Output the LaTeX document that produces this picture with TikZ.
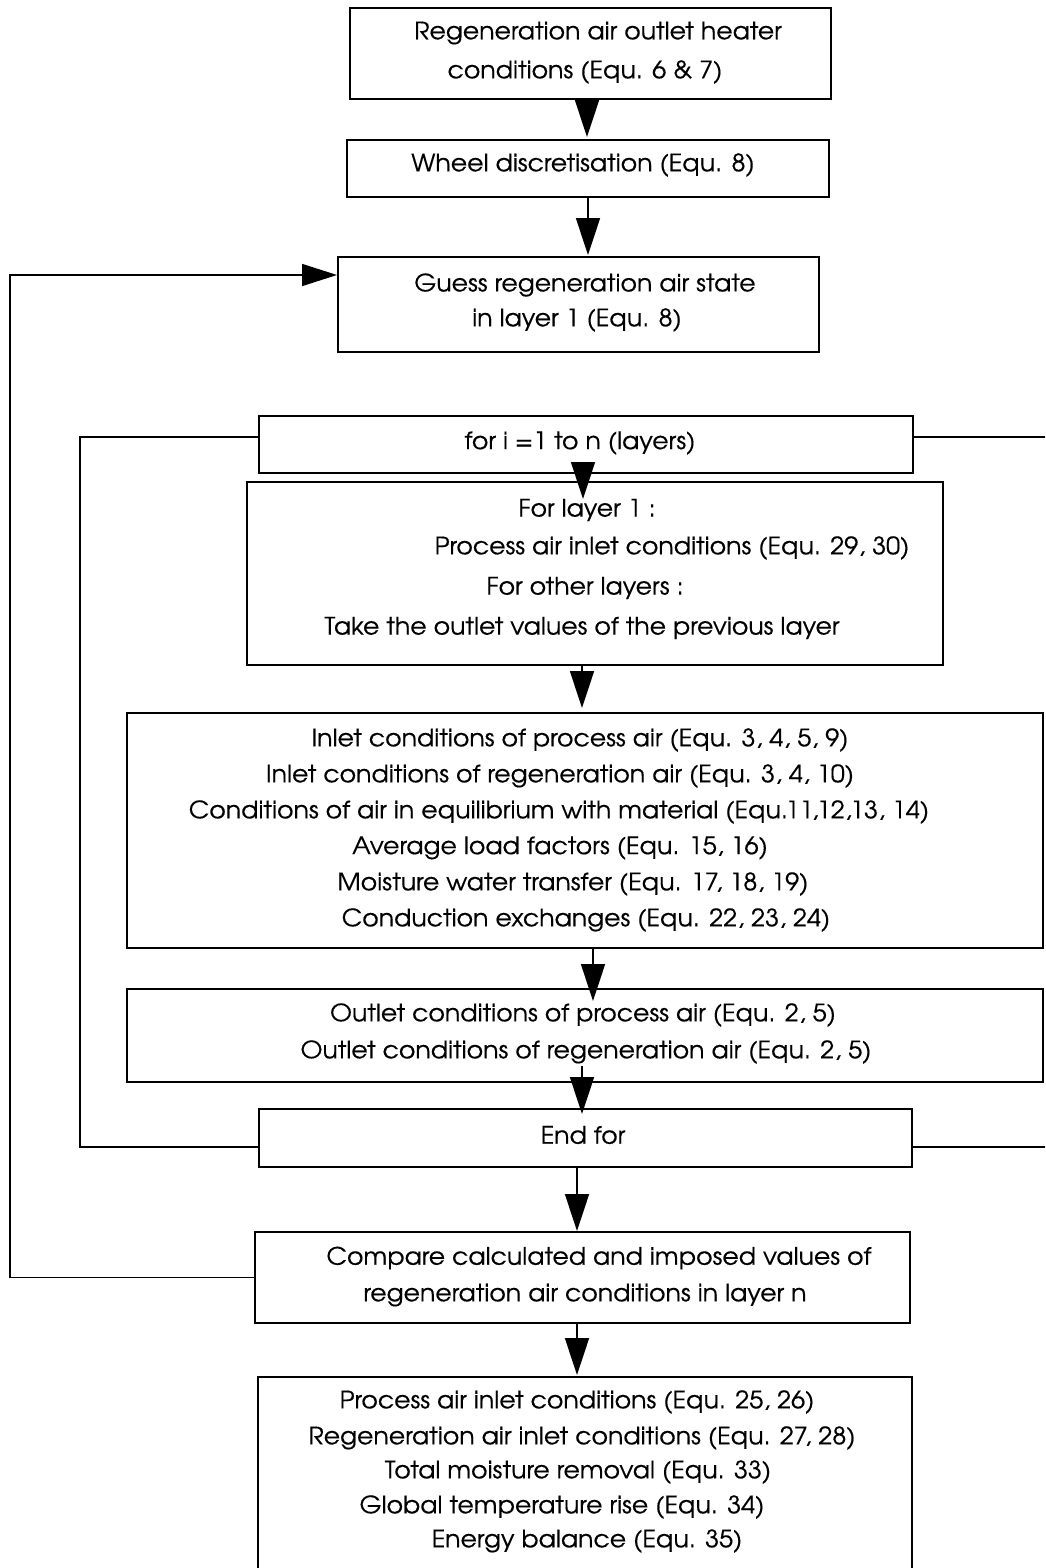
\documentclass[tikz,border=0pt]{standalone}
\usepackage{fontspec}
\IfFontExistsTF{TeX Gyre Adventor}{\setmainfont[FakeStretch=1.05,FakeBold=0.4]{TeX Gyre Adventor}}{\setmainfont{Poppins}}
\usetikzlibrary{arrows.meta,calc}
\tikzset{
  box/.style={draw=black, line width=2pt, rectangle, inner sep=0pt, fill=none},
  txt/.style={inner sep=0pt, font=\fontsize{24}{28}\selectfont},
  conn/.style={draw=black, line width=1.6pt},
  arr/.style={conn, -{Triangle[length=37pt,width=24pt]}},
  harr/.style={conn, -{Triangle[length=35pt,width=22pt]}},
}
\newcommand\fbx[5]{\node[box,minimum width={#4-#2},minimum height={#5-#3}] (#1) at ({(#2+#4)/2},{(#3+#5)/2}) {};}
\begin{document}
\begin{tikzpicture}[x=1pt,y=-1pt]
\useasboundingbox (0,0) rectangle (1045,1568);
\fill[white] (0,0) rectangle (1045,1568);
\clip (0,0) rectangle (1045,1568);
% boxes
\fbx{b1}{350}{8}{831}{99}
\fbx{b2}{347}{140}{829}{197}
\fbx{b3}{338}{257}{819}{352}
\fbx{b4}{259}{416}{913}{473}
\fbx{b5}{247}{482}{943}{665}
\fbx{b6}{127}{713}{1043}{948}
\fbx{b7}{127}{989}{1043}{1082}
\fbx{b8}{259}{1109}{912}{1167}
\fbx{b9}{255}{1232}{910}{1323}
\fbx{b10}{258}{1377}{912}{1600}
% texts
\node[txt] (t1a) at (598,33) {Regeneration air outlet heater};
\node[txt] (t1b) at (585,72) {conditions (Equ. 6 \& 7)};
\node[txt] (t2) at (583,165) {Wheel discretisation (Equ. 8)};
\node[txt] (t3a) at (585,285) {Guess regeneration air state};
\node[txt] (t3b) at (577,320) {in layer 1 (Equ. 8)};
\node[txt] (t4) at (580,443) {for i =1 to n (layers)};
\node[txt] (t5a) at (587,510) {For layer 1 :};
\node[txt] (t5b) at (672,548) {Process air inlet conditions (Equ. 29, 30)};
\node[txt] (t5c) at (585,588) {For other layers :};
\node[txt] (t5d) at (582,628) {Take the outlet values of the previous layer};
\node[txt] (t6a) at (580,740) {Inlet conditions of process air (Equ. 3, 4, 5, 9)};
\node[txt] (t6b) at (560,776) {Inlet conditions of regeneration air (Equ. 3, 4, 10)};
\node[txt] (t6c) at (559,812) {Conditions of air in equilibrium with material (Equ.11,12,13, 14)};
\node[txt] (t6d) at (560,848) {Average load factors (Equ. 15, 16)};
\node[txt] (t6e) at (573,884) {Moisture water transfer (Equ. 17, 18, 19)};
\node[txt] (t6f) at (586,920) {Conduction exchanges (Equ. 22, 23, 24)};
\node[txt] (t7a) at (583,1015) {Outlet conditions of process air (Equ. 2, 5)};
\node[txt] (t7b) at (586,1052) {Outlet conditions of regeneration air (Equ. 2, 5)};
\node[txt] (t8) at (583,1135) {End for};
\node[txt] (t9a) at (599,1258) {Compare calculated and imposed values of};
\node[txt] (t9b) at (585,1295) {regeneration air conditions in layer n};
\node[txt] (t10a) at (577,1402) {Process air inlet conditions (Equ. 25, 26)};
\node[txt] (t10b) at (582,1438) {Regeneration air inlet conditions (Equ. 27, 28)};
\node[txt] (t10c) at (578,1472) {Total moisture removal (Equ. 33)};
\node[txt] (t10d) at (562,1507) {Global temperature rise (Equ. 34)};
\node[txt] (t10e) at (587,1541) {Energy balance (Equ. 35)};
% coordinates for loops
\coordinate (lp) at (10,275);
\coordinate (lf1) at (80,437);
\coordinate (lf2) at (80,1147);
\coordinate (rf1) at (1050,437);
\coordinate (rf2) at (1050,1147);
% connectors
\draw[arr] ([xshift=-3.5pt]b1.south) -- ++(0,37);
\draw[arr] (b2.south) -- ++(0,57);
\draw[harr] (b9.west) -| (lp) -- ([yshift=29.5pt]b3.west);
\draw[arr] ([xshift=-3pt,yshift=11pt]b4.south) -- ++(0,36);
\draw[arr] ([xshift=-13pt]b5.south) -- ++(0,42);
\draw[arr] ([xshift=8pt]b6.south) -- ++(0,52);
\draw[arr] ([xshift=-3pt,yshift=17pt]b7.south) -- ++(0,48);
\draw[arr] ([xshift=-8.5pt]b8.south) -- ++(0,63);
\draw[arr] ([xshift=-5.5pt]b9.south) -- ++(0,51);
\draw[conn] ([yshift=7.5pt]b4.west) -- (lf1) -- (lf2) -- (b8.west |- lf2);
\draw[conn] ([yshift=7.5pt]b4.east) -- (rf1);
\draw[conn] (b8.east |- rf2) -- (rf2);
\end{tikzpicture}
\end{document}
